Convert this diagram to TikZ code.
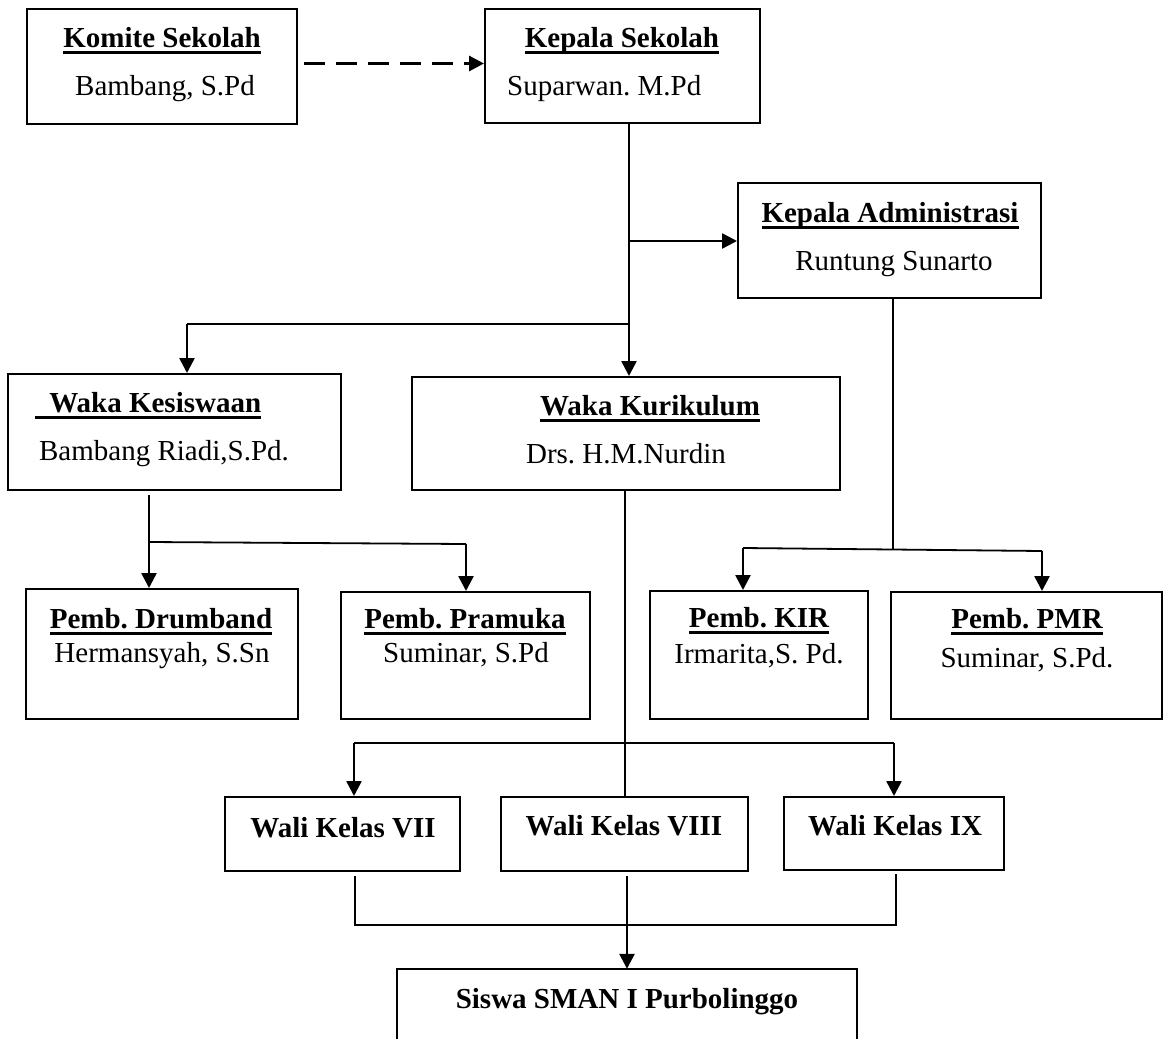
\documentclass[tikz,border=0pt]{standalone}
\usepackage{fontspec}
\setmainfont{Liberation Serif}
\usetikzlibrary{arrows.meta,positioning}

\newcommand{\ulin}[1]{\setbox0=\hbox{#1}\rlap{\rule[-6.5pt]{\wd0}{2.5pt}}\box0}
\frenchspacing

\begin{document}
\begin{tikzpicture}[x=1pt, y=-1pt, >={Triangle[length=15pt,width=15pt]},
  box/.style={draw, line width=2pt, rectangle, inner sep=0pt},
  ttl/.style={anchor=base, inner sep=0pt, font=\fontsize{29}{34}\selectfont\bfseries},
  nm/.style={anchor=base, inner sep=0pt, font=\fontsize{29}{34}\selectfont},
  arr/.style={->, line width=2.6pt},
  ln/.style={line width=1.8pt}]
  \useasboundingbox (0,0) rectangle (1163,1039);
  \fill[white] (0,0) rectangle (1163,1039);

  % boxes
  \node[box, minimum width=270pt, minimum height=115pt] (komite) at (162,66.5) {};
  \node[box, minimum width=275pt, minimum height=114pt] (kepsek) at (622.5,66) {};
  \node[box, minimum width=303pt, minimum height=115pt] (admin) at (889.5,240.5) {};
  \node[box, minimum width=333pt, minimum height=116pt] (kesis) at (174.5,432) {};
  \node[box, minimum width=428pt, minimum height=113pt] (kurik) at (626,433.5) {};
  \node[box, minimum width=272pt, minimum height=130pt] (drum) at (162,654) {};
  \node[box, minimum width=249pt, minimum height=127pt] (pram) at (465.5,655.5) {};
  \node[box, minimum width=218pt, minimum height=128pt] (kir) at (759,655) {};
  \node[box, minimum width=271pt, minimum height=127pt] (pmr) at (1026.5,655.5) {};
  \node[box, minimum width=235pt, minimum height=74pt] (wali7) at (342.5,834) {};
  \node[box, minimum width=247pt, minimum height=74pt] (wali8) at (624.5,834) {};
  \node[box, minimum width=220pt, minimum height=73pt] (wali9) at (894,833.5) {};
  \node[rectangle, inner sep=0pt, minimum width=460pt, minimum height=81pt] (siswa) at (627,1009.5) {};
  \draw[line width=2pt] (siswa.south west) -- (siswa.north west) -- (siswa.north east) -- (siswa.south east);

  % texts
  \node[ttl] (komite-t) at (162,47) {\ulin{Komite Sekolah}};
  \node[nm] (komite-n) at (165,95) {Bambang, S.Pd};
  \node[ttl] (kepsek-t) at (622,47) {\ulin{Kepala Sekolah}};
  \node[nm, anchor=base west] (kepsek-n) at (507,95) {Suparwan. M.Pd};
  \node[ttl] (admin-t) at (890,222) {\ulin{Kepala Administrasi}};
  \node[nm] (admin-n) at (894,270) {Runtung Sunarto};
  \node[ttl] (kesis-t) at (148,412) {\ulin{\ \ Waka Kesiswaan}};
  \node[nm] (kesis-n) at (164,460) {Bambang Riadi,S.Pd.};
  \node[ttl] (kurik-t) at (650,415) {\ulin{Waka Kurikulum}};
  \node[nm] (kurik-n) at (626,463) {Drs. H.M.Nurdin};
  \node[ttl] (drum-t) at (161,628) {\ulin{Pemb. Drumband}};
  \node[nm] (drum-n) at (162,662) {Hermansyah, S.Sn};
  \node[ttl] (pram-t) at (465,628) {\ulin{Pemb. Pramuka}};
  \node[nm] (pram-n) at (466,662) {Suminar, S.Pd};
  \node[ttl] (kir-t) at (759,627) {\ulin{Pemb. KIR}};
  \node[nm] (kir-n) at (759,663) {Irmarita,S. Pd.};
  \node[ttl] (pmr-t) at (1027,628) {\ulin{Pemb. PMR}};
  \node[nm] (pmr-n) at (1027,667) {Suminar, S.Pd.};
  \node[ttl] (wali7-t) at (343,837) {Wali Kelas VII};
  \node[ttl] (wali8-t) at (624,835) {Wali Kelas VIII};
  \node[ttl] (wali9-t) at (895,835) {Wali Kelas IX};
  \node[ttl] (siswa-t) at (627,1008) {Siswa SMAN I Purbolinggo};

  % junctions
  \coordinate (ja) at (629,241);
  \coordinate (jb) at (629,324);
  \coordinate (jc) at (187,324);
  \coordinate (jd) at (149,542);
  \coordinate (je) at (466,544);
  \coordinate (jf) at (893,549);
  \coordinate (jg) at (743,548);
  \coordinate (jh) at (1042,551);
  \coordinate (ji) at (625,743);
  \coordinate (jj) at (354,743);
  \coordinate (jk) at (894,743);
  \coordinate (jl) at (355,925);
  \coordinate (jm) at (896,925);
  \coordinate (jn) at (627,925);

  % connectors
  \draw[arr, line width=3pt, dash pattern=on 21pt off 11pt, shorten <=6pt] ([yshift=3pt]komite.east) -- ([yshift=3pt]komite.east -| kepsek.west);
  \draw[arr] (kepsek.south -| ja) -- (ja |- kurik.north);
  \draw[arr] (ja) -- (ja -| admin.west);
  \draw[ln] (jb) -- (jc);
  \draw[arr] (jc) -- (jc |- kesis.north);
  \draw[arr, shorten <=4pt] (kesis.south -| jd) -- (jd |- drum.north);
  \draw[ln] (jd) -- (je);
  \draw[arr] (je) -- (je |- pram.north);
  \draw[ln] (admin.south -| jf) -- (jf);
  \draw[ln] (jg) -- (jh);
  \draw[arr] (jg) -- (jg |- kir.north);
  \draw[arr] (jh) -- (jh |- pmr.north);
  \draw[ln] (kurik.south -| ji) -- (ji |- wali8.north);
  \draw[ln] (jj) -- (jk);
  \draw[arr] (jj) -- (jj |- wali7.north);
  \draw[arr] (jk) -- (jk |- wali9.north);
  \draw[ln, shorten <=4pt, shorten >=3pt] (wali7.south -| jl) -- (jl) -- (jm) -- (wali9.south -| jm);
  \draw[arr, shorten <=4pt] (wali8.south -| jn) -- (jn |- siswa.north);
\end{tikzpicture}
\end{document}
